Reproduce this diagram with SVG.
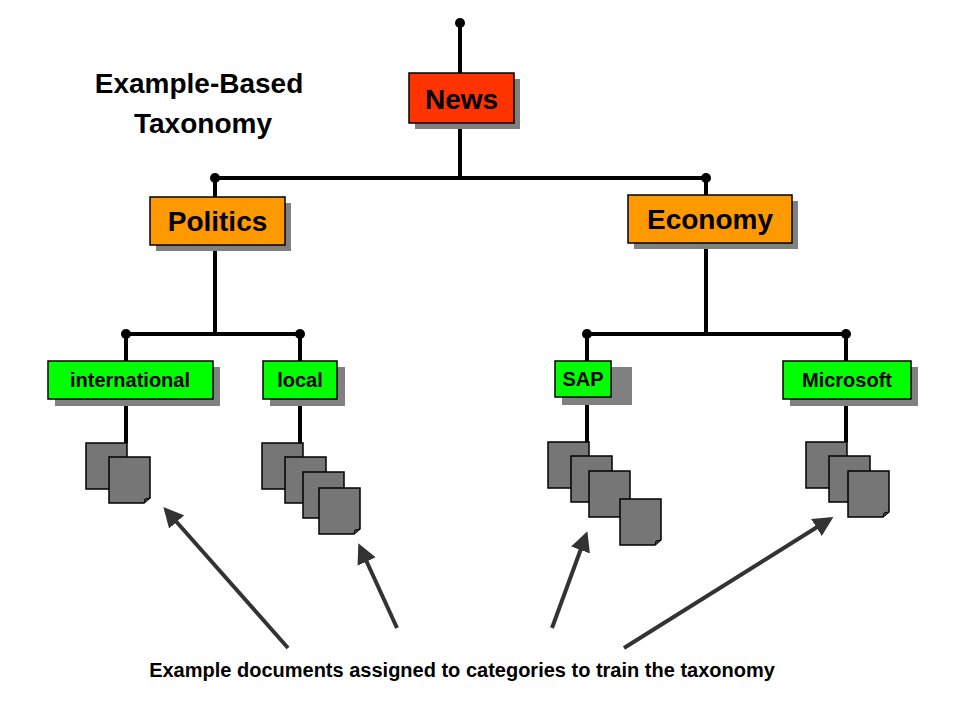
<svg xmlns="http://www.w3.org/2000/svg" width="960" height="720" viewBox="0 0 960 720">
<style>
.t{font-family:"Liberation Sans",Arial,sans-serif;font-weight:bold;fill:#000}
.ln{stroke:#000;stroke-width:4;fill:none}
.sh{fill:#808080}
.bx{stroke:#000;stroke-width:1.5}
.doc{fill:#767676;stroke:#000;stroke-width:1.5}
.ar{stroke:#333;stroke-width:4;fill:none;marker-end:url(#ah)}
</style>
<defs>
<marker id="ah" viewBox="0 0 10 10" refX="8" refY="5" markerWidth="5" markerHeight="5" orient="auto" markerUnits="strokeWidth"><path d="M0,0 L10,5 L0,10 z" fill="#333"/></marker>
<symbol id="d" overflow="visible"><path class="doc" d="M0,0 H41 V41 L35,46 H0 Z"/><path d="M35,46 L36,42 L41,41" fill="#444" stroke="#000" stroke-width="1"/></symbol>
</defs>
<g id="connectors">
<path class="ln" d="M460,23 V178 M215,178 H706 M215,178 V334 M126,334 H300 M706,178 V334 M587,334 H846 M126,334 V443 M300,334 V443 M587,334 V442 M846,334 V442"/>
<g fill="#000"><circle cx="460" cy="23" r="5"/><circle cx="215" cy="178" r="5"/><circle cx="706" cy="178" r="5"/><circle cx="126" cy="334" r="5"/><circle cx="300" cy="334" r="5"/><circle cx="587" cy="334" r="5"/><circle cx="846" cy="334" r="5"/></g>
<path class="ar" d="M288,648 L166,510"/>
<path class="ar" d="M397,628 L360,547"/>
<path class="ar" d="M552,628 L586,535"/>
<path class="ar" d="M624,648 L830,519"/>
</g>
<text class="t" x="199" y="93" font-size="28" text-anchor="middle">Example-Based</text>
<text class="t" x="203" y="133" font-size="28" text-anchor="middle">Taxonomy</text>
<g id="news"><rect class="sh" x="415" y="79" width="105" height="50"/><rect class="bx" x="409" y="73" width="105" height="50" fill="#ff3300"/><text class="t" x="461.5" y="109" font-size="28" text-anchor="middle">News</text></g>
<g id="politics"><rect class="sh" x="156" y="203" width="135" height="48"/><rect class="bx" x="150" y="197" width="135" height="48" fill="#ff9900"/><text class="t" x="217.5" y="231" font-size="28" text-anchor="middle">Politics</text></g>
<g id="economy"><rect class="sh" x="634" y="201" width="164" height="48"/><rect class="bx" x="628" y="195" width="164" height="48" fill="#ff9900"/><text class="t" x="710" y="229" font-size="28" text-anchor="middle">Economy</text></g>
<g id="international"><rect class="sh" x="55" y="367" width="165" height="39"/><rect class="bx" x="48" y="361" width="165" height="38" fill="#00ff00"/><text class="t" x="130" y="387" font-size="20" text-anchor="middle">international</text></g>
<g id="local"><rect class="sh" x="270" y="367" width="75" height="39"/><rect class="bx" x="263" y="361" width="74" height="38" fill="#00ff00"/><text class="t" x="300" y="387" font-size="20" text-anchor="middle">local</text></g>
<g id="sap"><rect class="sh" x="562" y="367" width="70" height="38"/><rect class="bx" x="555" y="361" width="56" height="36" fill="#00ff00"/><text class="t" x="583" y="386" font-size="20" text-anchor="middle">SAP</text></g>
<g id="microsoft"><rect class="sh" x="790" y="367" width="128" height="39"/><rect class="bx" x="783" y="361" width="128" height="38" fill="#00ff00"/><text class="t" x="847" y="387" font-size="20" text-anchor="middle">Microsoft</text></g>
<g id="docs-international"><use href="#d" x="86" y="443"/><use href="#d" x="109" y="457"/></g>
<g id="docs-local"><use href="#d" x="262" y="443"/><use href="#d" x="285" y="457"/><use href="#d" x="303" y="472"/><use href="#d" x="319" y="488"/></g>
<g id="docs-sap"><use href="#d" x="548" y="442"/><use href="#d" x="571" y="456"/><use href="#d" x="589" y="471"/><use href="#d" x="620" y="499"/></g>
<g id="docs-microsoft"><use href="#d" x="806" y="442"/><use href="#d" x="829" y="456"/><use href="#d" x="848" y="471"/></g>
<text class="t" x="462" y="677" font-size="20" text-anchor="middle">Example documents assigned to categories to train the taxonomy</text>
</svg>
